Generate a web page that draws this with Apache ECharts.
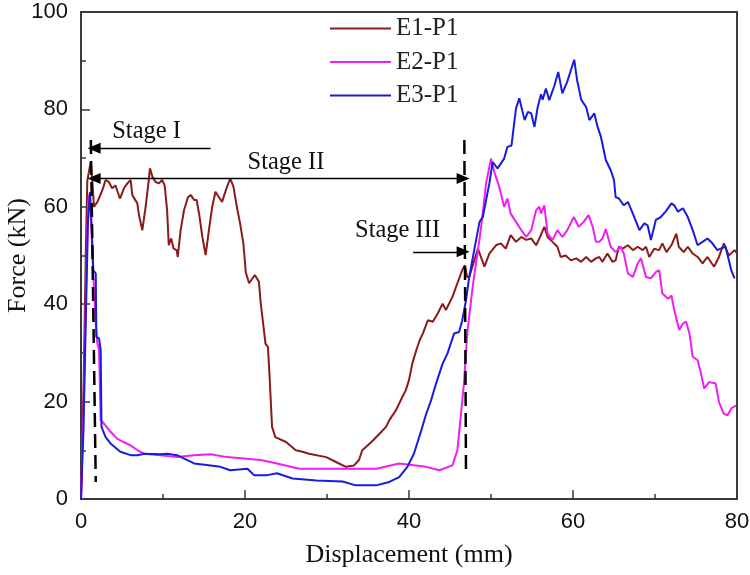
<!DOCTYPE html>
<html><head><meta charset="utf-8">
<script src="https://cdn.jsdelivr.net/npm/echarts@6/dist/echarts.min.js"></script>
<style>html,body{margin:0;padding:0;background:#fff}#c{width:750px;height:575px}</style>
</head><body><div id="c"></div>
<script>
const seriesNames = ['E1-P1', 'E2-P1', 'E3-P1'];
const xTicks = [0, 20, 40, 60, 80];
const yTicks = [0, 20, 40, 60, 80, 100];

const e1 = [[0,0],[0.3,22],[0.6,52],[0.77,65.4],[0.95,67],[1.17,69.2],[1.38,65.4],[1.58,60],[2.0,61],[2.2,60.7],[2.6,63.4],[3.0,65.5],[3.4,65.1],[3.8,63.8],[4.2,64.4],[4.75,61.7],[5.24,63.8],[5.65,64.8],[6.05,65.5],[6.26,62.4],[6.87,60.7],[7.07,58.3],[7.48,55.2],[7.88,60],[8.17,64.1],[8.41,67.9],[8.7,66.2],[9.1,65.1],[9.5,64.8],[9.9,65.5],[10.2,64.4],[10.5,59.3],[10.7,52.1],[11.0,53.5],[11.3,51.4],[11.66,51.1],[11.8,49.7],[12.15,55.2],[12.56,59.3],[13.05,62],[13.4,62.4],[13.8,61.4],[14.1,61.4],[14.4,58.6],[14.8,53.8],[15.2,50.1],[15.6,55.2],[16.0,60],[16.4,63.1],[16.8,62],[17.2,61],[17.8,64.1],[18.2,65.8],[18.6,64.1],[19.0,60],[19.4,56.6],[19.8,52.5],[20.1,46.5],[20.5,44.3],[21.2,46],[21.7,44.6],[21.9,40.5],[22.1,40.1],[22.5,31.9],[22.8,31.2],[23.0,25.1],[23.3,14.8],[23.7,12.7],[25.0,11.7],[26.2,10],[27.0,9.7],[27.8,9.3],[29.9,8.6],[31.1,7.6],[32.3,6.6],[33.3,6.9],[33.9,8],[34.3,10],[34.95,11],[35.6,12],[36.4,13.4],[37.2,14.8],[37.6,16.2],[38.4,18.2],[39.2,21],[39.6,22.3],[40.0,24.4],[40.4,27.8],[40.9,30.6],[41.3,32.6],[41.7,34],[42.3,36.7],[42.9,36.4],[43.5,38.1],[44.1,40.1],[44.5,38.8],[45.3,41.5],[45.9,44.3],[46.5,47],[46.8,48],[47.1,45.6],[47.35,45.6],[48.4,51.4],[49.2,47.7],[49.8,50.4],[50.6,52.1],[51.2,52.5],[51.8,51.4],[52.4,54.2],[53.05,52.8],[53.7,53.8],[54.3,53.2],[54.9,53.5],[55.5,52.1],[55.9,53.5],[56.5,55.9],[56.9,53.8],[57.5,52.8],[58.1,51.8],[58.5,49.7],[59.1,50],[59.75,49],[60.4,49.4],[61.0,48.7],[61.6,49.7],[62.2,48.7],[62.8,49.4],[63.2,49.7],[63.6,48.7],[64.2,50.4],[64.8,48.7],[65.2,49],[65.6,51.8],[66.05,51.4],[66.7,52.1],[67.3,51.1],[67.9,51.8],[68.5,51.1],[68.9,51.8],[69.3,49.7],[69.9,51.4],[70.5,51.1],[70.9,52.5],[71.4,50.7],[72.0,52.1],[72.6,54.5],[72.9,51.8],[73.5,50.7],[74.0,51.8],[74.6,50.4],[75.2,49.7],[75.8,48.4],[76.4,49.7],[77.2,47.7],[77.8,49.7],[78.4,52.5],[79.0,50],[79.7,51.1],[80,50.5]];

const e2 = [[0,0],[0.3,18],[0.6,42],[0.85,60],[1.0,62.5],[1.2,58],[1.5,46],[1.8,36],[2.0,31.9],[2.2,30.6],[2.4,16.2],[2.8,15.5],[3.6,13.8],[4.4,12.4],[5.2,11.7],[6.05,11],[6.9,10],[7.7,9.3],[9.7,9.0],[11.7,8.6],[13.8,9.0],[15.8,9.2],[17.8,8.6],[19.9,8.3],[21.9,8.0],[23.9,7.3],[26.6,6.2],[29.9,6.2],[32.7,6.2],[36.0,6.2],[38.8,7.3],[42.1,6.6],[43.7,5.9],[45.3,6.9],[45.9,10],[46.3,16.8],[46.7,23.7],[47.1,34],[47.8,44],[48.4,51],[48.8,55.9],[49.4,64.8],[50.0,69.9],[50.4,67.2],[51.0,64.1],[51.6,60],[52.0,61.7],[52.4,58.6],[53.05,56.9],[53.7,55.2],[54.3,53.8],[54.9,55.2],[55.5,59.3],[55.9,60],[56.1,58.6],[56.5,60.3],[56.9,54.5],[57.5,53.2],[58.1,55.2],[58.7,53.8],[59.3,55.2],[60.1,57.9],[60.7,55.9],[61.3,56.9],[61.9,58.3],[62.4,55.9],[62.8,52.8],[63.2,52.8],[63.6,53.5],[64.0,55.4],[64.6,51.8],[65.2,50.7],[65.8,51.8],[66.2,50.4],[66.7,46.3],[67.3,45.6],[67.9,48.4],[68.3,49.4],[68.9,45.6],[69.5,45.3],[70.1,46.6],[70.5,47],[70.9,42.2],[71.6,41.1],[72.0,41.8],[72.35,38.8],[72.95,34.7],[73.4,36],[73.8,36.4],[74.2,34],[74.6,29.2],[75.2,28.5],[75.6,25.8],[76.0,22.7],[76.6,24],[77.4,23.7],[77.8,19.9],[78.4,17.5],[78.85,17.2],[79.3,18.6],[79.9,19.2]];

const e3 = [[0,0],[0.3,14],[0.6,38],[0.85,57],[1.1,63],[1.3,56],[1.5,47],[1.8,46.3],[1.87,33.3],[2.2,33],[2.4,30.6],[2.5,14.8],[3.0,12.7],[3.6,11.4],[4.8,9.7],[6.05,9.0],[6.9,9.0],[7.7,9.3],[9.7,9.2],[10.5,9.3],[11.7,9.0],[12.6,8.3],[13.8,7.3],[15.8,6.9],[17.0,6.6],[18.2,5.9],[20.3,6.2],[21.1,4.9],[22.7,4.9],[23.9,5.3],[25.8,4.2],[28.7,3.8],[31.9,3.6],[33.5,2.8],[36.0,2.8],[37.6,3.5],[38.8,4.5],[39.8,6.6],[40.6,9.3],[41.5,14.1],[42.1,17.5],[42.7,20.3],[43.3,23.7],[44.1,27.8],[44.7,29.9],[45.5,34],[46.1,34.3],[46.5,36.7],[46.95,40.8],[47.35,45.6],[47.95,51.1],[48.6,56.9],[49.0,57.9],[49.8,64.8],[50.2,69.2],[50.8,67.9],[51.6,69.9],[52.0,72.3],[52.5,72.6],[53.05,80.2],[53.45,82.3],[54.1,77.8],[54.5,79.5],[54.9,79.2],[55.3,76.4],[55.7,80.5],[56.1,83.1],[56.3,82],[56.7,84.3],[57.1,81.9],[57.3,81.7],[57.7,84.7],[58.2,87.7],[58.7,83.3],[59.3,85.7],[59.75,88.1],[60.15,90.2],[60.5,86],[61.0,82],[61.6,80.5],[62.0,77.8],[62.6,79.2],[63.0,76.4],[63.4,74.4],[64.0,69.6],[64.6,67.5],[65.0,65.5],[65.2,62],[65.6,61.7],[66.2,60.3],[66.7,61],[67.3,58.6],[68.1,55.2],[68.7,56.6],[69.1,56.2],[69.5,53.2],[70.1,57.3],[70.7,57.9],[71.3,59],[72.0,60.7],[72.35,60.3],[72.8,59],[73.4,59.7],[74.0,57.9],[74.6,55.2],[75.2,52.1],[75.8,52.8],[76.4,53.5],[77.0,52.5],[77.6,51.1],[78.0,51.4],[78.6,51.8],[79.3,47],[79.7,45.3]];

// annotation geometry (data coordinates)
const dash1 = [[1.2,73.7],[1.8,3.5]];
const dash2 = [[46.75,73.7],[46.95,5.3]];
const arrowStage1 = [[15.8,72],[1.6,72]];
const arrowStage2 = [[1.6,65.8],[46.6,65.8]];
const arrowStage3 = [[40.5,50.75],[46.6,50.75]];
const stageLabels = [['Stage I',8.0,75.4],['Stage II',25.0,69.0],['Stage III',38.6,55.2]];

const colors = ['#8b1a1a','#f01ef0','#1a1ae0'];
const serif = '"Liberation Serif","Times New Roman",serif';
const sans = '"Liberation Sans",Arial,sans-serif';

const chart = echarts.init(document.getElementById('c'), null, {renderer:'canvas'});
const axisCommon = {
  axisLine:{show:true,lineStyle:{color:'#3a3a3a',width:2}},
  axisTick:{show:true,inside:true,length:9,lineStyle:{color:'#3a3a3a',width:1.5}},
  minorTick:{show:true,splitNumber:2,length:5,lineStyle:{color:'#3a3a3a',width:1.5}},
  splitLine:{show:false},
  nameTextStyle:{color:'#111',fontFamily:serif,fontSize:26},
  nameLocation:'middle',
  nameMoveOverlap:false
};
const lineSeries = [e1,e2,e3].map((d,i)=>({
  name:seriesNames[i], type:'line', data:d, showSymbol:false, symbol:'none',
  lineStyle:{color:colors[i],width:2}, itemStyle:{color:colors[i]}, z:3, animation:false
}));
const arrowStyle = {color:'#000',width:1.3,type:'solid'};
const annot = {
  name:'annot', type:'line', data:[], symbol:'none', silent:true, animation:false,
  markLine:{silent:true, animation:false, symbolSize:[11,13], label:{show:false},
    lineStyle:arrowStyle,
    data:[
      [{coord:arrowStage1[0],symbol:'none'},{coord:arrowStage1[1],symbol:'triangle'}],
      [{coord:arrowStage2[0],symbol:'triangle'},{coord:arrowStage2[1],symbol:'triangle'}],
      [{coord:arrowStage3[0],symbol:'none'},{coord:arrowStage3[1],symbol:'triangle'}]
    ]},
  markPoint:{silent:true, animation:false, symbol:'circle', symbolSize:1, itemStyle:{color:'rgba(0,0,0,0)'},
    label:{show:true,position:'inside',color:'#111',fontFamily:serif,fontSize:24.5},
    data: stageLabels.map(s=>({coord:[s[1],s[2]],value:s[0],label:{formatter:s[0]}}))}
};
const dashSeries = [dash1,dash2].map(d=>({
  type:'line', data:d, symbol:'none', silent:true, animation:false, z:4,
  lineStyle:{color:'#000',width:2.5,type:[14,7]}
}));
chart.setOption({
  animation:false,
  backgroundColor:'#fff',
  grid:{left:81,right:13,top:12,bottom:76,containLabel:false,outerBoundsMode:'none',show:true,borderColor:'#3a3a3a',borderWidth:2,backgroundColor:'transparent'},
  legend:{data:seriesNames, orient:'vertical', left:325, top:11, itemWidth:61, itemHeight:2, itemGap:8.5,
    icon:'rect', textStyle:{fontFamily:serif,fontSize:25,color:'#222',lineHeight:25}},
  xAxis:Object.assign({type:'value',min:0,max:80,interval:20,name:'Displacement (mm)',nameGap:43}, axisCommon,
    {axisLabel:{color:'#111',fontFamily:sans,fontSize:22,margin:12}}),
  yAxis:Object.assign({type:'value',min:0,max:100,interval:20,name:'Force (kN)',nameGap:50}, axisCommon,
    {axisLabel:{color:'#111',fontFamily:sans,fontSize:22,margin:13}}),
  series:[...lineSeries, ...dashSeries, annot]
});
</script></body></html>
